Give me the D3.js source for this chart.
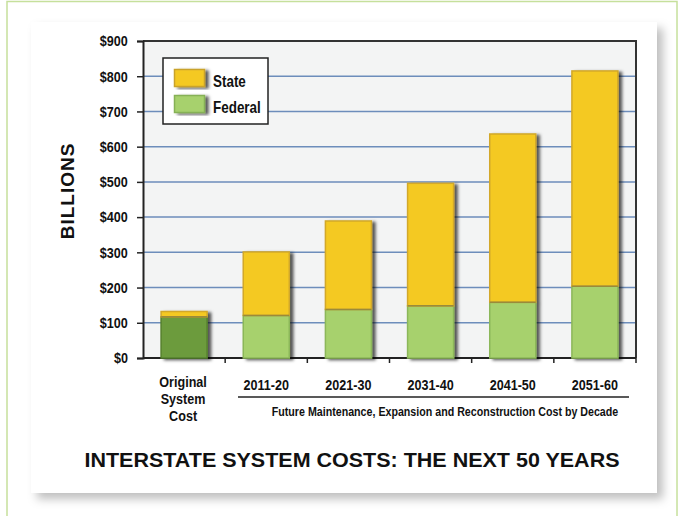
<!DOCTYPE html>
<meta charset="utf-8">
<script src="https://d3js.org/d3.v7.min.js"></script>
<style>
  body { margin: 0; background: #fff; }
  text { font-family: "Liberation Sans", Arial, sans-serif; font-weight: bold; fill: #111; }
</style>
<svg id="chart" width="679" height="516"></svg>
<script>
// data (billions of dollars)
const categories = ["Original System Cost", "2011-20", "2021-30", "2031-40", "2041-50", "2051-60"];
const federal = [117, 121, 138, 148, 158, 204];
const state = [15, 180, 251, 348, 478, 611];
const yTicks = [0, 100, 200, 300, 400, 500, 600, 700, 800, 900];
const seriesNames = ["State", "Federal"];

const svg = d3.select("#chart");
const narrow = 0.84; // squeeze to mimic a narrow face

// text with horizontal squeeze
function ctext(parent, x, y, str, size, anchor, k) {
  return parent.append("text")
    .attr("transform", `translate(${x},${y}) scale(${k || narrow},1)`)
    .attr("text-anchor", anchor || "start")
    .attr("font-size", size).text(str);
}

const defs = svg.append("defs");
defs.append("filter").attr("id", "cardShadow")
  .attr("x", "-10%").attr("y", "-10%").attr("width", "125%").attr("height", "125%")
  .append("feDropShadow").attr("dx", 6).attr("dy", 6).attr("stdDeviation", 5)
  .attr("flood-color", "#000").attr("flood-opacity", 0.25);
defs.append("filter").attr("id", "barShadow")
  .attr("x", "-20%").attr("y", "-10%").attr("width", "150%").attr("height", "130%")
  .append("feDropShadow").attr("dx", 3.5).attr("dy", 1.5).attr("stdDeviation", 1.6)
  .attr("flood-color", "#000").attr("flood-opacity", 0.65);

// page frame + card
svg.append("rect").attr("x", 7).attr("y", 1.5).attr("width", 670).attr("height", 530)
  .attr("fill", "#fff").attr("stroke", "#c6e09c").attr("stroke-width", 1.5);
svg.append("rect").attr("x", 31).attr("y", 22).attr("width", 626).attr("height", 471)
  .attr("fill", "#fff").attr("filter", "url(#cardShadow)");

const pLeft = 143, pRight = 636, pTop = 41, pBottom = 358;

const x = d3.scaleBand().domain(categories).range([pLeft, pRight]).paddingInner(0.44).paddingOuter(0.22);
const xb = d3.scaleBand().domain(categories).range([pLeft, pRight]);
const y = d3.scaleLinear().domain([0, 900]).range([pBottom, pTop]);

// plot background
svg.append("rect").attr("x", pLeft).attr("y", pTop).attr("width", pRight - pLeft).attr("height", pBottom - pTop)
  .attr("fill", "#f3f4f4");

// gridlines
svg.append("g").selectAll("line").data(yTicks.filter(d => d > 0 && d < 900)).join("line")
  .attr("x1", pLeft).attr("x2", pRight)
  .attr("y1", d => y(d)).attr("y2", d => y(d))
  .attr("stroke", "#6d8dbb").attr("stroke-width", 1.5);

// plot frame (top and right)
svg.append("path")
  .attr("d", `M${pLeft},${pTop}H${pRight}V${pBottom}`)
  .attr("fill", "none").attr("stroke", "#333").attr("stroke-width", 2);

// y axis
const yAxis = svg.append("g").attr("transform", `translate(${pLeft},0)`)
  .call(d3.axisLeft(y).tickValues(yTicks).tickSize(6).tickPadding(12).tickFormat(d => "$" + d));
yAxis.select(".domain").attr("stroke", "#222").attr("stroke-width", 2);
yAxis.selectAll(".tick line").attr("stroke", "#222").attr("stroke-width", 1.5);
yAxis.selectAll(".tick text").attr("font-size", 15).attr("fill", "#111")
  .attr("font-family", "'Liberation Sans', Arial, sans-serif").attr("font-weight", "bold")
  .attr("transform", `scale(${narrow},1)`);

// x axis (band boundary ticks)
svg.append("line").attr("x1", pLeft).attr("x2", pRight).attr("y1", pBottom).attr("y2", pBottom)
  .attr("stroke", "#222").attr("stroke-width", 2);
svg.append("g").selectAll("line").data(categories.slice(1).concat(["end"])).join("line")
  .attr("x1", d => d === "end" ? pRight : xb(d)).attr("x2", d => d === "end" ? pRight : xb(d))
  .attr("y1", pBottom).attr("y2", pBottom + 5)
  .attr("stroke", "#222").attr("stroke-width", 1.5);

// bars
const bars = svg.append("g").selectAll("g").data(categories).join("g")
  .attr("filter", "url(#barShadow)");
bars.append("rect")
  .attr("x", d => x(d)).attr("width", x.bandwidth())
  .attr("y", (d, i) => y(federal[i])).attr("height", (d, i) => y(0) - y(federal[i]))
  .attr("fill", (d, i) => i === 0 ? "#6c9b3d" : "#a7d16d")
  .attr("stroke", (d, i) => i === 0 ? "#55802c" : "#8cb75a").attr("stroke-width", 1.5);
bars.append("rect")
  .attr("x", d => x(d)).attr("width", x.bandwidth())
  .attr("y", (d, i) => y(federal[i] + state[i])).attr("height", (d, i) => y(federal[i]) - y(federal[i] + state[i]))
  .attr("fill", "#f4c924")
  .attr("stroke", "#d2a82a").attr("stroke-width", 1.5);
bars.append("line")
  .attr("x1", d => x(d)).attr("x2", d => x(d) + x.bandwidth())
  .attr("y1", (d, i) => y(federal[i])).attr("y2", (d, i) => y(federal[i]))
  .attr("stroke", "#9a8a3a").attr("stroke-width", 1.5);

// category labels
categories.slice(1).forEach(c => ctext(svg, xb(c) + xb.bandwidth() / 2, 390, c, 15, "middle"));
categories[0].split(" ").forEach((w, i) =>
  ctext(svg, xb(categories[0]) + xb.bandwidth() / 2 - 1, 387 + i * 17, w, 15, "middle"));

svg.append("line").attr("x1", 238).attr("x2", 629).attr("y1", 397).attr("y2", 397)
  .attr("stroke", "#222").attr("stroke-width", 1.5);
ctext(svg, 445, 416, "Future Maintenance, Expansion and Reconstruction Cost by Decade", 13.5, "middle", 0.79);

// y title
svg.append("text").attr("transform", "translate(74,191) rotate(-90)")
  .attr("text-anchor", "middle").attr("font-size", 19)
  .attr("letter-spacing", 1).text("BILLIONS");

// legend
const legend = svg.append("g").attr("transform", "translate(163,58)");
legend.append("rect").attr("width", 105).attr("height", 66)
  .attr("fill", "#fff").attr("stroke", "#222").attr("stroke-width", 1.5);
const legendColors = ["#f4c924", "#a7d16d"];
const legendStroke = ["#c9a22a", "#86b156"];
seriesNames.forEach((name, i) => {
  legend.append("rect").attr("x", 11.5).attr("y", 11.5 + i * 26).attr("width", 30).attr("height", 17)
    .attr("fill", legendColors[i]).attr("stroke", legendStroke[i]).attr("stroke-width", 1.5)
    .attr("filter", "url(#barShadow)");
  ctext(legend, 50, 29 + i * 26, name, 16, "start");
});

// title
svg.append("text").attr("x", 352).attr("y", 467).attr("text-anchor", "middle")
  .attr("font-size", 21).attr("font-family", "'DejaVu Sans Condensed', 'Liberation Sans', sans-serif")
  .attr("textLength", 535).attr("lengthAdjust", "spacingAndGlyphs")
  .text("INTERSTATE SYSTEM COSTS: THE NEXT 50 YEARS");
</script>
